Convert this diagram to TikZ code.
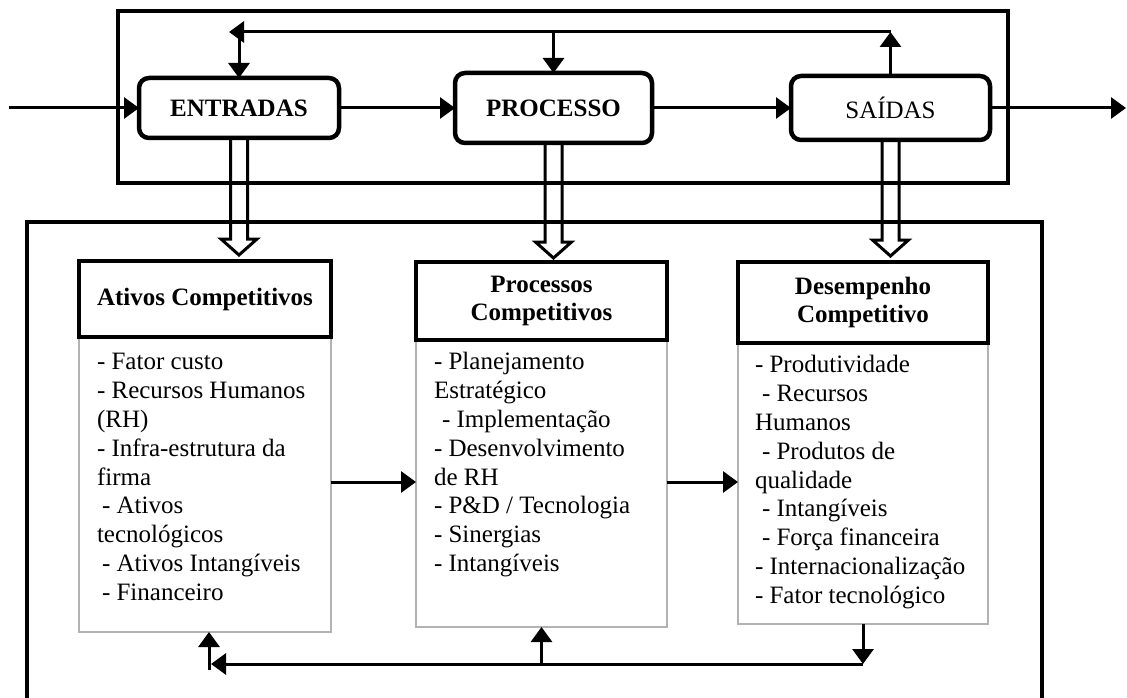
\documentclass[tikz,border=0pt]{standalone}
\usepackage{fontspec}
\setmainfont{Liberation Serif}
\usetikzlibrary{arrows.meta,calc}
% double-line hollow arrow from a flow box down to a given level
\newcommand\hollowdrop[2]{%
  \draw[hollow] ([xshift=-8.5pt]#1.south) -- ($(#1.south|-#2)+(-8.5,-16)$)
    -- ($(#1.south|-#2)+(-18,-16)$) -- (#1.south|-#2)
    -- ($(#1.south|-#2)+(18,-16)$) -- ($(#1.south|-#2)+(8.5,-16)$)
    -- ([xshift=8.5pt]#1.south);}
\begin{document}
\begin{tikzpicture}[x=1pt,y=-1pt,
  every node/.style={outer sep=0pt},
  flow/.style={draw,line width=4.5pt,rounded corners=10pt,inner sep=0pt,anchor=north west,
    font=\fontsize{25}{28}\selectfont},
  frame/.style={line width=3.5pt},
  head/.style={draw,line width=3.5pt,inner sep=0pt,anchor=north west,align=center,
    font=\bfseries\fontsize{25}{28}\selectfont},
  panel/.style={draw=black!30,line width=1.6pt,inner sep=0pt,anchor=north west},
  items/.style={inner sep=0pt,anchor=north west,align=left,font=\fontsize{25}{28.8}\selectfont},
  arr/.style={line width=3pt,-{Triangle[length=15pt,width=21pt]}},
  hollow/.style={line width=3pt,line join=miter},
]
\useasboundingbox (0,0) rectangle (1127,698);

% enclosing frames
\draw[frame] (118,11) rectangle (1008,183);
\draw[frame] (27,702) -- (27,222) -- (1042,222) -- (1042,702);

% input -> process -> output chain
\node[flow,font=\bfseries\fontsize{25}{28}\selectfont,minimum width=200pt,minimum height=60pt] (ent) at (139,78) {ENTRADAS};
\node[flow,font=\bfseries\fontsize{25}{28}\selectfont,minimum width=197pt,minimum height=70pt] (pro) at (455,73) {PROCESSO};
\node[flow,minimum width=199pt,minimum height=64pt] (sai) at (791,76) {SAÍDAS};

% competitive columns
\node[panel,minimum width=252pt,minimum height=295pt] (pA) at (79,337) {};
\node[panel,minimum width=251pt,minimum height=287pt] (pB) at (416,340) {};
\node[panel,minimum width=250pt,minimum height=281pt] (pC) at (738,343) {};
\node[head,minimum width=252pt,minimum height=76pt] (hA) at (79,261) {Ativos Competitivos};
\node[head,minimum width=251pt,minimum height=78pt] (hB) at (416,262) {Processos\\Competitivos};
\node[head,minimum width=250pt,minimum height=81pt] (hC) at (738,262) {Desempenho\\Competitivo};

\node[items] (tA) at (97,349.8) {\strut- Fator custo\\- Recursos Humanos\\(RH)\\- Infra-estrutura da\\firma\\
  \hspace{5pt}- Ativos\\tecnológicos\\\hspace{5pt}- Ativos Intangíveis\\\hspace{5pt}- Financeiro};
\node[items] (tB) at (434,349.8) {\strut- Planejamento\\Estratégico\\\hspace{8pt}- Implementação\\- Desenvolvimento\\de RH\\
  - P\&D / Tecnologia\\- Sinergias\\- Intangíveis};
\node[items] (tC) at (755,352.8) {\strut- Produtividade\\\hspace{7pt}- Recursos\\Humanos\\\hspace{7pt}- Produtos de\\qualidade\\
  \hspace{7pt}- Intangíveis\\\hspace{7pt}- Força financeira\\- Internacionalização\\- Fator tecnológico};

% levels used by the connectors
\coordinate (inL) at (9,108);
\coordinate (outR) at (1126,108);
\coordinate (topy) at (0,32);
\coordinate (fbL) at (229,32);
\coordinate (dA) at (0,255);
\coordinate (dB) at (0,258);
\coordinate (dC) at (0,256);
\coordinate (midy) at (0,482);
\coordinate (boty) at (0,664);

% main flow
\draw[arr] (inL) -- (ent.west);
\draw[arr] (ent.east) -- (pro.west);
\draw[arr] (pro.east) -- (sai.west);
\draw[arr] (sai.east) -- (outR);

% upper feedback loop
\draw[arr] (sai.north) -- (sai.north|-topy);
\draw[arr] (sai.north|-topy) -- (fbL);
\draw[arr] (ent.north|-topy) -- (ent.north);
\draw[arr] (pro.north|-topy) -- (pro.north);

% hollow links to the columns
\hollowdrop{ent}{dA}
\hollowdrop{pro}{dB}
\hollowdrop{sai}{dC}

% links between columns
\draw[arr] (pA.east|-midy) -- (pB.west|-midy);
\draw[arr] (pB.east|-midy) -- (pC.west|-midy);

% lower feedback loop
\draw[arr] (pC.south) -- (pC.south|-boty);
\draw[arr] (pC.south|-boty) -- ($(pA.south|-boty)+(6,0)$);
\draw[arr] ($(pA.south|-boty)+(4,6)$) -- ($(pA.south)+(4,0)$);
\draw[arr] (pB.south|-boty) -- (pB.south);
\end{tikzpicture}
\end{document}
